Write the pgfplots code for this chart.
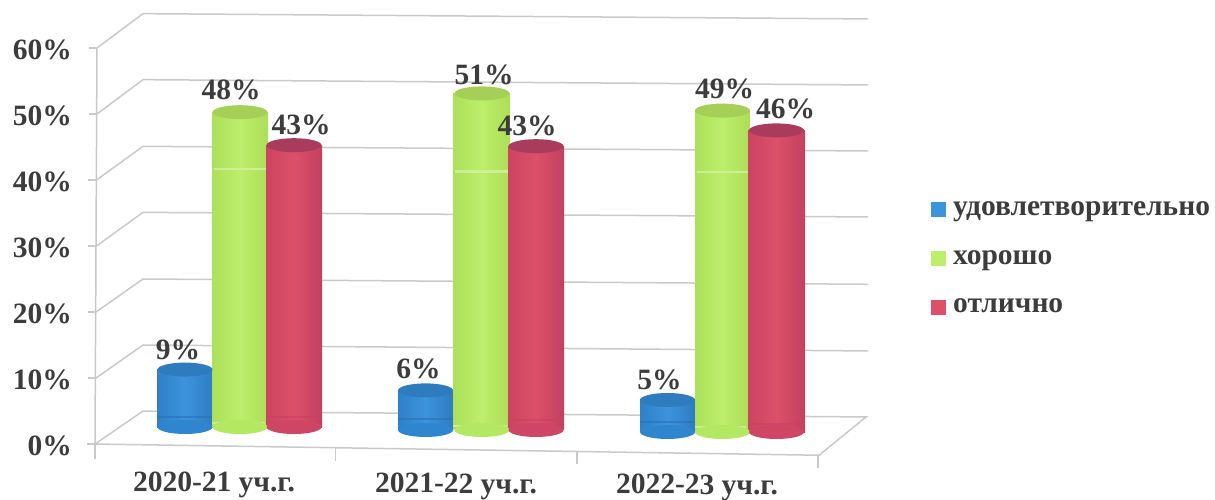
\documentclass[border=0pt]{standalone}
\usepackage{pgfplots}
\pgfplotsset{compat=1.18}
\usepackage{fontspec}
\setmainfont{Liberation Serif}
\definecolor{txt}{HTML}{3C3C3C}
\definecolor{gridc}{HTML}{C9C9C9}
\definecolor{bL}{HTML}{2F80C8}\definecolor{bM}{HTML}{3C94DC}\definecolor{bR}{HTML}{2E7CC2}\definecolor{bT}{HTML}{2E7CBE}\definecolor{bB}{HTML}{2F86CE}\definecolor{bS}{HTML}{2B74B6}
\definecolor{gL}{HTML}{ACE05A}\definecolor{gM}{HTML}{BDEE6C}\definecolor{gR}{HTML}{ACDE58}\definecolor{gT}{HTML}{A6CF58}\definecolor{gB}{HTML}{B4E862}\definecolor{gS}{HTML}{D6F4A8}
\definecolor{rL}{HTML}{CC4462}\definecolor{rM}{HTML}{DC5068}\definecolor{rR}{HTML}{C2405F}\definecolor{rT}{HTML}{A93C5C}\definecolor{rB}{HTML}{CF4566}\definecolor{rS}{HTML}{C84362}
\pgfdeclareplotmark{cylend}{\pgfpathellipse{\pgfpointorigin}{\pgfqpoint{27.5pt}{0pt}}{\pgfqpoint{0pt}{7pt}}\pgfusepathqfill}
% #1 x-left, #2 x-right, #3 centre, #4 value, #5 base level, #6 vertical offset, #7 label dx, #8 label dy, #9 colour prefix
\newcommand{\cyl}[9]{%
 \addplot[forget plot,only marks,mark=cylend,mark options={fill=#9B,draw=none},yshift=-#6pt] coordinates {(#3,#5)};
 \addplot[forget plot,draw=none,left color=#9L,right color=#9R,middle color=#9M,yshift=-#6pt] coordinates {(#1,#5)(#1,#4)(#2,#4)(#2,#5)};
 \addplot[forget plot,only marks,mark=cylend,mark options={fill=#9T,draw=none},yshift=-#6pt,
   point meta=y,nodes near coords={\pgfmathprintnumber{\pgfplotspointmeta}\%},
   nodes near coords style={anchor=center,xshift=#7pt,yshift=#8pt,font=\fontsize{29.5}{30}\selectfont\bfseries,text=txt,inner sep=0pt}] coordinates {(#3,#4)};
}
% #1 x-left, #2 x-right, #3 level, #4 colour, #5 vertical offset
\newcommand{\band}[5]{\addplot[forget plot,draw=#4,line width=2.5pt,opacity=.7,yshift=-#5pt] coordinates {(#1,#3)(#2,#3)};}
\begin{document}
\begin{tikzpicture}[x=1pt,y=1pt]
\useasboundingbox (0,0) rectangle (1215,500);
\begin{axis}[
  at={(0,0)},anchor=south west,scale only axis,width=1215pt,height=500pt,
  xmin=0,xmax=1215,ymin=-8.48,ymax=67.27,
  axis line style={draw=none},major tick length=0pt,clip=false,
  ytick={0,10,20,30,40,50,60},yticklabels={0\%,10\%,20\%,30\%,40\%,50\%,60\%},
  xtick={214,456,697},
  xticklabels={{2020-21 уч.г.},{\raisebox{-1.5pt}{2021-22 уч.г.}},{\raisebox{-2.5pt}{2022-23 уч.г.}}},
  tick label style={font=\fontsize{29.5}{30}\selectfont\bfseries,text=txt},
  yticklabel style={xshift=72pt,yshift=-2pt,inner sep=0pt,anchor=east},
  xticklabel style={anchor=base,yshift=8.5pt,inner sep=0pt,rotate=-0.3},
  gl/.style={gridc,line width=1.5pt,no marks},
]
% back wall and side wall lines
\addplot[gl] coordinates {(97,60)(143,65.2)(868,64.4)};
\addplot[gl] coordinates {(97,50)(143,55.2)(868,54.4)};
\addplot[gl] coordinates {(96.5,40)(143,45.1)(868,44.4)};
\addplot[gl] coordinates {(96.5,30)(143,35.1)(868,34.4)};
\addplot[gl] coordinates {(96,20)(143,25)(868,24.2)};
\addplot[gl] coordinates {(96,10)(143,15)(868,14.1)};
\addplot[gl] coordinates {(95,0)(143,5)(866,4.1)(819,-1.7)(95,0)};
% vertical axis and tick marks
\addplot[gl] coordinates {(97,60)(95,0)};
\addplot[gl] coordinates {(89,60)(97,60)};
\addplot[gl] coordinates {(89,50)(97,50)};
\addplot[gl] coordinates {(88,40)(96.5,40)};
\addplot[gl] coordinates {(88,30)(96.5,30)};
\addplot[gl] coordinates {(88,20)(96,20)};
\addplot[gl] coordinates {(88,10)(96,10)};
\addplot[gl] coordinates {(87,0)(95,0)};
\addplot[gl] coordinates {(95,0)(95,-2.2)};
\addplot[gl] coordinates {(335.5,-0.6)(335.5,-2.6)};
\addplot[gl] coordinates {(577,-1.1)(577,-3.1)};
\addplot[gl] coordinates {(818,-1.7)(818,-3.7)};
\end{axis}
\begin{axis}[
  at={(0,0)},anchor=south west,scale only axis,width=1215pt,height=500pt,
  xmin=0,xmax=1215,ymin=-10.76,ymax=65,
  hide axis,clip=false,
  /pgf/number format/assume math mode=true,
  legend style={at={(931/1215,301/500)},anchor=north west,draw=none,fill=none,
    font=\fontsize{29.5}{30}\selectfont\bfseries,text=txt,row sep=29.5pt,inner sep=0pt,
    /tikz/every odd column/.append style={column sep=6pt}},
  legend cell align=left,
]
% 2020-21
\cyl{157}{213}{185}{9}{0.3}{0}{-7}{20}{b}
\band{157}{213}{1.8}{bS}{0}
\cyl{212}{268}{240}{48}{0.3}{0}{-9}{22}{g}
\band{214}{267}{39.4}{gS}{0}
\band{212}{265}{0.9}{gS}{0}
\cyl{266}{322}{294}{43}{0.3}{0}{7}{20}{r}
\band{266}{320}{1.8}{rS}{0}
% 2021-22
\cyl{398}{453}{425.5}{6}{0}{1}{-7}{21}{b}
\band{398}{453}{1.66}{bS}{1}
\cyl{453}{510}{482}{51}{0}{1}{2}{19}{g}
\band{455}{508}{39.2}{gS}{1}
\band{453}{507}{0.6}{gS}{1}
\cyl{508}{564}{536}{43}{0}{1}{-9}{20}{r}
\band{508}{562}{1.5}{rS}{1}
% 2022-23
\cyl{640}{695}{667.5}{5}{0.15}{4}{-8}{20}{b}
\band{640}{695}{1.66}{bS}{4}
\cyl{695}{750}{722.5}{49}{0.3}{5}{2}{22}{g}
\band{697}{749}{39.7}{gS}{5}
\band{695}{746}{1.06}{gS}{5}
\cyl{748}{805}{776.5}{46}{0.3}{5}{9}{22}{r}
\band{748}{803}{1.5}{rS}{5}
% legend
\addlegendimage{only marks,mark=square*,mark size=7pt,mark options={draw=bM,fill=bM}}
\addlegendentry{удовлетворительно}
\addlegendimage{only marks,mark=square*,mark size=7pt,mark options={draw=gM,fill=gM}}
\addlegendentry{хорошо}
\addlegendimage{only marks,mark=square*,mark size=7pt,mark options={draw=rM,fill=rM}}
\addlegendentry{отлично}
\end{axis}
\end{tikzpicture}
\end{document}
